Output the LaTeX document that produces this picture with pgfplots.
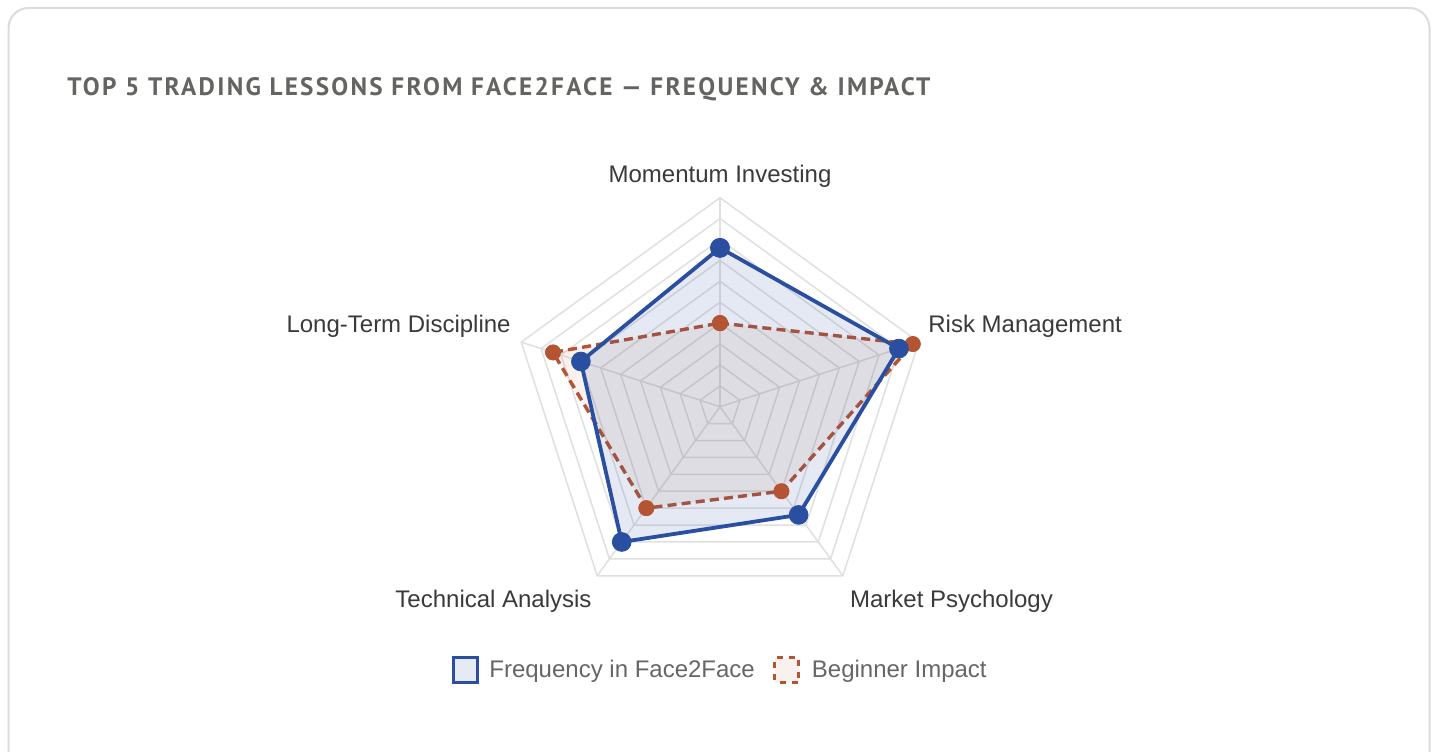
\documentclass[border=0pt]{standalone}
\usepackage{pgfplots}
\pgfplotsset{compat=1.18}
\usepgfplotslibrary{polar}
\usepackage{fontspec}
\setmainfont{Liberation Sans}
\newfontfamily\titlefont[LetterSpace=9]{PT Sans}
\definecolor{blueline}{HTML}{2A4FA0}
\definecolor{orangeline}{HTML}{B45432}
\definecolor{gridc}{HTML}{E0E0E0}
\definecolor{cardb}{HTML}{DCDCD8}
\definecolor{labelc}{HTML}{3A3A3A}
\definecolor{legc}{HTML}{666666}
\definecolor{titlec}{HTML}{646461}
\begin{document}
\begin{tikzpicture}
\useasboundingbox (0,0) rectangle (718pt,375.5pt);
\fill[white] (0,0) rectangle (718pt,375.5pt);
\draw[cardb, line width=1pt, rounded corners=10pt] (4.25pt,-20pt) rectangle (714.75pt,371.5pt);
\node[anchor=base west, inner sep=0, text=titlec, font=\titlefont\bfseries\fontsize{12.6}{13}\selectfont] at (33.5pt,327.5pt) {TOP 5 TRADING LESSONS FROM FACE2FACE — FREQUENCY \& IMPACT};
\begin{axis}[at={(360pt,172.15pt)}, anchor=center, x=10.45pt, y=10.45pt,
  xmin=-10, xmax=10, ymin=-10, ymax=10, hide axis, clip=false]
\pgfplotsinvokeforeach{1,...,10}{
  \addplot[gridc, line width=0.75pt, line join=round, data cs=polar, forget plot]
    coordinates {(90,#1) (18,#1) (-54,#1) (-126,#1) (162,#1) (90,#1)};
}
\pgfplotsinvokeforeach{90,18,-54,-126,162}{
  \addplot[gridc, line width=0.75pt, data cs=polar, forget plot]
    coordinates {(#1,0) (#1,10)};
}
% Beginner Impact
\addplot[orangeline, line width=1.7pt, dash pattern=on 4.5pt off 2.6pt, line join=round,
  fill=orangeline, fill opacity=0.08, data cs=polar,
  mark=*, mark size=3.8pt, mark options={solid, fill=orangeline, draw=orangeline, fill opacity=1, line width=0.4pt}]
  coordinates {(90,4.0) (18,9.7) (-54,5.0) (-126,6.0) (162,8.4) (90,4.0)};
% Frequency in Face2Face
\addplot[blueline, line width=1.9pt, line join=round,
  fill=blueline, fill opacity=0.12, data cs=polar,
  mark=*, mark size=4.7pt, mark options={solid, fill=blueline, draw=blueline, fill opacity=1, line width=0.4pt}]
  coordinates {(90,7.6) (18,9.0) (-54,6.4) (-126,8.0) (162,7.0) (90,7.6)};
\end{axis}
\begin{scope}[every node/.style={inner sep=0, text=labelc, font=\fontsize{12}{14}\selectfont}]
\node[anchor=base] at (360pt,284pt) {Momentum Investing};
\node[anchor=base west] at (464pt,209pt) {Risk Management};
\node[anchor=base east] at (255.5pt,209pt) {Long-Term Discipline};
\node[anchor=base] at (246.75pt,72pt) {Technical Analysis};
\node[anchor=base] at (475.75pt,72pt) {Market Psychology};
\end{scope}
% legend
\draw[blueline, line width=1.5pt, fill=blueline!12] (226.75pt,34.25pt) rectangle (238.75pt,46.75pt);
\node[anchor=base west, inner sep=0, text=legc, font=\fontsize{12}{14}\selectfont] at (244.5pt,37pt) {Frequency in Face2Face};
\draw[orangeline, line width=1.5pt, dash pattern=on 3pt off 3pt, dash phase=-1.5pt, fill=orangeline!8] (387.25pt,34.25pt) rectangle (399.25pt,46.75pt);
\node[anchor=base west, inner sep=0, text=legc, font=\fontsize{12}{14}\selectfont] at (405.75pt,37pt) {Beginner Impact};
\end{tikzpicture}
\end{document}
